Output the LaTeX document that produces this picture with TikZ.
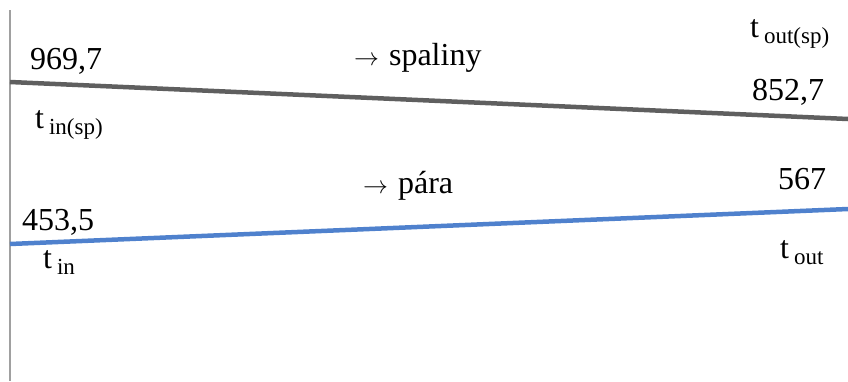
\documentclass[tikz,border=0pt]{standalone}
\usepackage{fontspec}
\setmainfont{Liberation Serif}
\usetikzlibrary{positioning}
\definecolor{fluegray}{RGB}{95, 95, 95}
\definecolor{steamblue}{RGB}{79, 129, 205}
\definecolor{axisgray}{RGB}{160, 160, 160}
\newcommand{\tsub}[1]{t\hspace{5pt}\raisebox{-6pt}{\fontsize{23}{26}\selectfont #1}}
\newcommand{\flowarr}{{\fontsize{30}{34}\selectfont$\rightarrow$}\hspace{10pt}}

\begin{document}
\begin{tikzpicture}[
  x=1pt, y=-1pt,
  lbl/.style={inner sep=0pt, anchor=base west, font=\fontsize{32}{38}\selectfont},
  axis/.style={axisgray, line width=1.5pt},
  flue/.style={fluegray, line width=4.5pt},
  steam/.style={steamblue, line width=4.5pt}
]
\useasboundingbox (0,0) rectangle (848,381);
% axis
\coordinate (axtop) at (10,10);
\coordinate (axbot) at (10,381);
\draw[axis] (axtop) -- (axbot);
% flue gas line
\coordinate (fin)  at (10,82);
\coordinate (fout) at (848,119);
\draw[flue] (fin) -- (fout);
% steam line
\coordinate (sin)  at (10,244);
\coordinate (sout) at (848,209);
\draw[steam] (sin) -- (sout);
% labels
\node[lbl] (v969)   at (30,69)   {969,7};
\node[lbl] (tinsp)  at (35,128)  {\tsub{in(sp)}};
\node[lbl] (spal)   at (354,65)  {\flowarr spaliny};
\node[lbl] (toutsp) at (750,37)  {\tsub{out(sp)}};
\node[lbl] (v852)   at (752,100) {852,7};
\node[lbl] (para)   at (363,193) {\flowarr pára};
\node[lbl] (v567)   at (778,189) {567};
\node[lbl] (v453)   at (22,230)  {453,5};
\node[lbl] (tin)    at (43,268)  {\tsub{in}};
\node[lbl] (tout)   at (780,258) {\tsub{out}};
\end{tikzpicture}
\end{document}
